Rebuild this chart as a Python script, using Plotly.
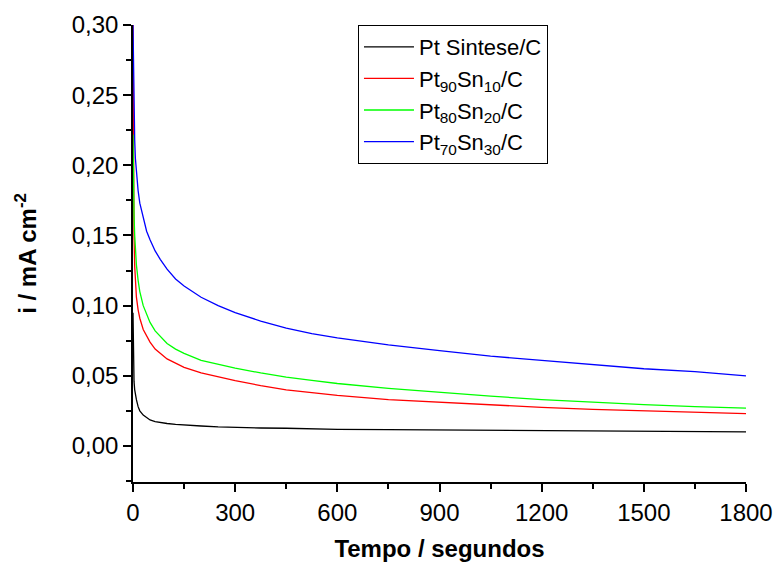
import plotly.graph_objects as go

# time (s)
t = [0, 1, 2, 3, 5, 7, 10, 15, 20, 30, 40, 50, 65, 80, 100, 125, 150, 200,
     250, 300, 375, 450, 525, 600, 750, 900, 1050, 1200, 1350, 1500, 1650, 1800]

i_pt = [0.095, 0.060, 0.050, 0.046, 0.040, 0.036, 0.033, 0.028, 0.025, 0.022,
        0.0200, 0.0185, 0.0174, 0.0166, 0.0160, 0.0153, 0.0148, 0.0142, 0.0136,
        0.0132, 0.0128, 0.0126, 0.0122, 0.0118, 0.0116, 0.0113, 0.0112, 0.0109,
        0.0108, 0.0104, 0.0103, 0.0100]
i_90 = [0.300, 0.215, 0.175, 0.150, 0.128, 0.116, 0.106, 0.097, 0.091, 0.083,
        0.078, 0.074, 0.069, 0.066, 0.062, 0.059, 0.056, 0.052, 0.049, 0.0465,
        0.043, 0.040, 0.038, 0.036, 0.033, 0.031, 0.029, 0.0275, 0.026, 0.025,
        0.024, 0.023]
i_80 = [0.222, 0.195, 0.178, 0.165, 0.150, 0.139, 0.129, 0.118, 0.110, 0.100,
        0.094, 0.088, 0.082, 0.078, 0.073, 0.069, 0.066, 0.061, 0.058, 0.0555,
        0.052, 0.049, 0.0467, 0.0445, 0.041, 0.038, 0.0355, 0.033, 0.031, 0.0295,
        0.028, 0.027]
i_70 = [0.300, 0.272, 0.252, 0.238, 0.218, 0.205, 0.194, 0.182, 0.173, 0.162,
        0.153, 0.147, 0.139, 0.133, 0.126, 0.119, 0.114, 0.106, 0.100, 0.095,
        0.089, 0.084, 0.080, 0.077, 0.072, 0.068, 0.064, 0.061, 0.058, 0.055,
        0.053, 0.050]

names = ["Pt Sintese/C", "Pt<sub>90</sub>Sn<sub>10</sub>/C",
         "Pt<sub>80</sub>Sn<sub>20</sub>/C", "Pt<sub>70</sub>Sn<sub>30</sub>/C"]
colors = ["#000000", "#ff0000", "#00ff00", "#0000ff"]
series = [i_pt, i_90, i_80, i_70]

x_ticks = [0, 300, 600, 900, 1200, 1500, 1800]
x_labels = ["0", "300", "600", "900", "1200", "1500", "1800"]
y_ticks = [0.00, 0.05, 0.10, 0.15, 0.20, 0.25, 0.30]
y_labels = ["0,00", "0,05", "0,10", "0,15", "0,20", "0,25", "0,30"]

fig = go.Figure()
for name, col, ys in zip(names, colors, series):
    fig.add_trace(go.Scatter(x=t, y=ys, mode="lines", name=name,
                             line=dict(color=col, width=1.3)))

font = "Liberation Sans, Arial, sans-serif"
fig.update_layout(
    width=776, height=562,
    margin=dict(l=133, r=30, t=25, b=80),
    plot_bgcolor="white", paper_bgcolor="white",
    font=dict(family=font, size=24, color="black"),
    showlegend=True,
    legend=dict(x=0.367, y=1.0, xanchor="left", yanchor="top",
                bordercolor="black", borderwidth=1, bgcolor="white",
                font=dict(size=22), tracegroupgap=0, itemwidth=50),
    xaxis=dict(range=[0, 1800], showline=True, linecolor="black", linewidth=1.5,
               ticks="outside", ticklen=8, tickwidth=1.5, tickcolor="black",
               tickvals=x_ticks, ticktext=x_labels, showgrid=False, zeroline=False,
               automargin=False,
               minor=dict(ticks="outside", ticklen=5, tickwidth=1.5, tickcolor="black",
                          dtick=150, tick0=0, showgrid=False),
               title=dict(text="<b>Tempo / segundos</b>", standoff=19,
                          font=dict(size=24))),
    yaxis=dict(range=[-0.0257, 0.30], showline=True, linecolor="black", linewidth=1.5,
               ticks="outside", ticklen=8, tickwidth=1.5, tickcolor="black",
               tickvals=y_ticks, ticktext=y_labels, showgrid=False, zeroline=False,
               automargin=False,
               minor=dict(ticks="outside", ticklen=5, tickwidth=1.5, tickcolor="black",
                          dtick=0.025, tick0=0, showgrid=False),
               title=dict(text="<b>i / mA cm<sup>-2</sup></b>", standoff=28,
                          font=dict(size=24))),
)

fig.write_html("out.html")
